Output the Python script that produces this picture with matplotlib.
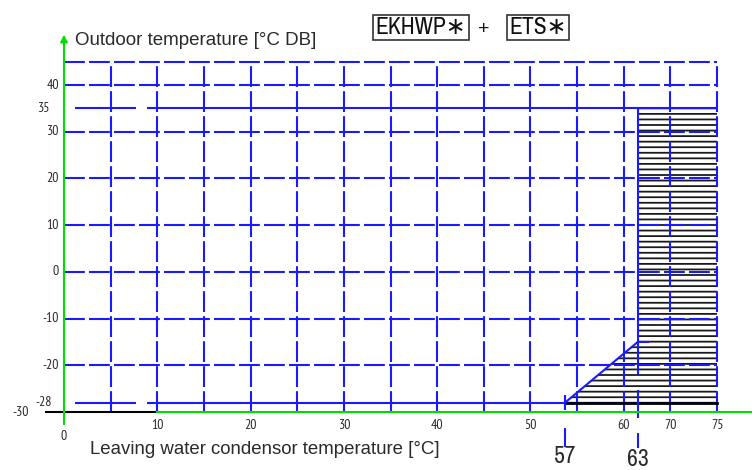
import numpy as np
import matplotlib
matplotlib.use("Agg")
import matplotlib.pyplot as plt
from matplotlib.patches import Polygon

plt.rcParams["font.family"] = ["Liberation Sans", "DejaVu Sans"]
plt.rcParams["hatch.linewidth"] = 1.3
NARROW = ["Archivo Narrow", "DejaVu Sans"]
TICKFONT = ["PT Sans Narrow", "DejaVu Sans"]

# Axis annotations
X_TICK_VALUES = [10, 20, 30, 40, 50, 60, 70, 75]
Y_TICK_VALUES = [40, 35, 30, 20, 10, 0, -10, -20, -28, -30]

# Leaving-water value -> position on the drawing's 5-unit grid
SCALE_VALUES = [0, 50, 57, 60, 63, 70, 75]
SCALE_GRID = [0, 50, 53.7, 60, 61.5, 65, 70]

# Operating envelope (leaving water temperature, outdoor temperature)
LWT_MIN, LWT_KNEE, LWT_MAX = 57, 63, 75
OAT_MIN, OAT_KNEE, OAT_MAX = -28, -15, 35

BLUE = "#1a1aff"
GREEN = "#00e000"
TXT = "#2a2a2a"


def xg(v):
    return np.interp(v, SCALE_VALUES, SCALE_GRID)


fig = plt.figure(figsize=(7.52, 4.70), dpi=100)
ax = fig.add_axes([0, 0, 1, 1])
ax.set_xlim(-6.86, 73.75)
ax.set_ylim(-42.41, 58.21)
ax.axis("off")

# Drawing grid
dash = (0, (10, 2))
for g in range(5, 75, 5):
    ax.vlines(g, -30, 45, color=BLUE, lw=1.5, linestyles=[dash], zorder=3)
for v in [-20, -10, 0, 10, 20, 30, 40, 45]:
    ax.hlines(v, 0, 70, color=BLUE, lw=1.5, linestyles=[dash], zorder=3)

# Outdoor temperature limits
for v in [OAT_MAX, OAT_MIN]:
    ax.hlines([v, v], [1.2, 8.9], [7.7, 70], color=BLUE, lw=1.5, zorder=3)

# Hatched operating area
env = [(xg(LWT_MIN), OAT_MIN), (xg(LWT_KNEE), OAT_KNEE), (xg(LWT_KNEE), OAT_MAX),
       (xg(LWT_MAX), OAT_MAX), (xg(LWT_MAX), OAT_MIN)]
ax.add_patch(Polygon(env, closed=True, facecolor="white", edgecolor="#1a1a1a",
                     lw=0, hatch="---", zorder=2))
ax.plot([xg(LWT_MIN), xg(LWT_MAX)], [OAT_MIN, OAT_MIN], color="black", lw=2, zorder=4)
ax.plot([xg(LWT_MIN), xg(LWT_KNEE), xg(LWT_KNEE) + 1.1],
        [OAT_MIN, OAT_KNEE, OAT_KNEE], color=BLUE, lw=1.5, zorder=4)
ax.vlines(xg(LWT_KNEE), -22.0, OAT_MAX, color=BLUE, lw=1.5, zorder=4)
ax.vlines(xg(LWT_KNEE), -31.3, -25.3, color=BLUE, lw=1.5, zorder=4)
ax.vlines(xg(LWT_KNEE), -37.8, -34.5, color=BLUE, lw=1.5, zorder=4)
ax.vlines(xg(LWT_MIN), -29.5, -26.4, color=BLUE, lw=1.5, zorder=4)
ax.vlines(xg(LWT_MIN), -37.5, -33.4, color=BLUE, lw=1.5, zorder=4)
ax.text(xg(LWT_MIN), -39.6, str(LWT_MIN), ha="center", va="center",
        fontsize=17, family=NARROW, color=TXT)
ax.text(xg(LWT_KNEE), -40.1, str(LWT_KNEE), ha="center", va="center",
        fontsize=17, family=NARROW, color=TXT)

# Axes lines
ax.plot([-1.93, 10], [-30, -30], color="black", lw=1.5, zorder=5)
ax.plot([10, 73.75], [-30, -30], color=GREEN, lw=1.5, zorder=5)
ax.annotate("", xy=(0, 50.8), xytext=(0, -32.6),
            arrowprops=dict(arrowstyle="-|>", color=GREEN, lw=1.5,
                            mutation_scale=10, shrinkA=0, shrinkB=0), zorder=5)

# Tick labels
for v in X_TICK_VALUES:
    ax.text(xg(v), -32.8, str(v), ha="center", va="center",
            fontsize=10, family=TICKFONT, color=TXT)
ax.text(0, -35.3, "0", ha="center", va="center", fontsize=10, family=TICKFONT, color=TXT)
y_label_x = {35: -1.6, -28: -1.3, -30: -3.75}
for v in Y_TICK_VALUES:
    ax.text(y_label_x.get(v, -0.55), v, str(v), ha="right", va="center",
            fontsize=10, family=TICKFONT, color=TXT)

# Axis titles
ax.text(1.18, 49.6, "Outdoor temperature [°C DB]", ha="left", va="center",
        fontsize=13.5, color=TXT)
ax.text(2.79, -38.1, "Leaving water condensor temperature [°C]", ha="left",
        va="center", fontsize=13.4, color=TXT)

# Model combination heading
box = dict(boxstyle="square,pad=0.1", facecolor="white", edgecolor="#333333", lw=1.2)
ax.text(38.27, 52.3, "EKHWP∗", ha="center", va="center", fontsize=17,
        family=NARROW, color="#111111", bbox=box)
ax.text(45.0, 52.0, "+", ha="center", va="center", fontsize=14, color="#111111")
ax.text(50.8, 52.3, "ETS∗", ha="center", va="center", fontsize=17,
        family=NARROW, color="#111111", bbox=box)

fig.savefig("out.png", dpi=100)
